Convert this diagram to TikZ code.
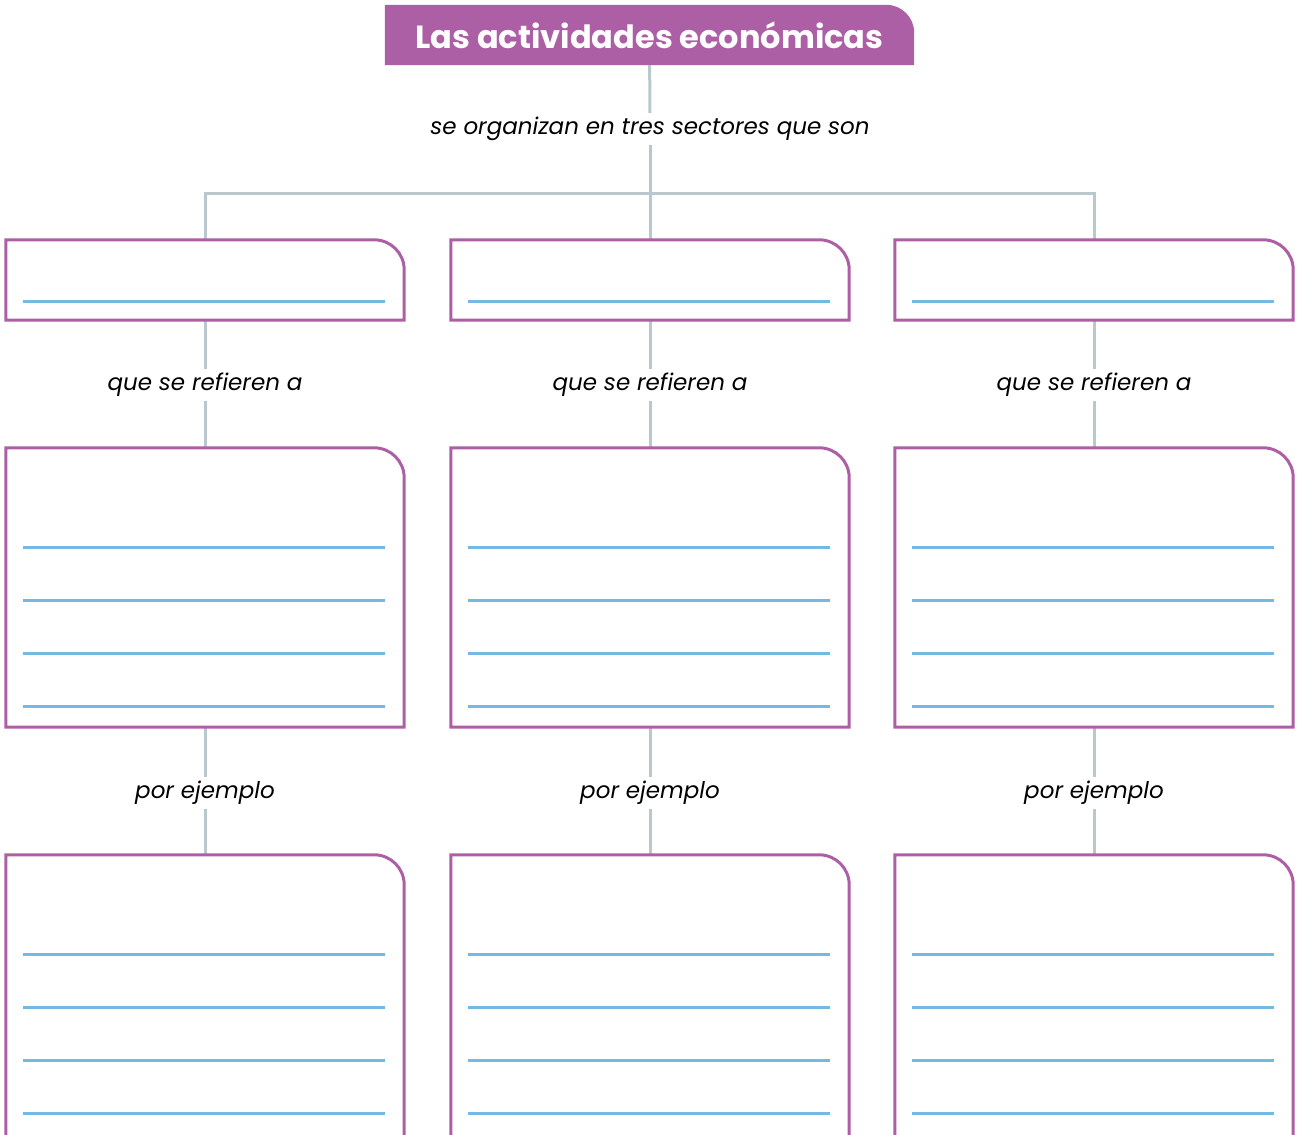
\documentclass[tikz,border=0pt]{standalone}
\usepackage{fontspec}
\setmainfont{Poppins}
\usetikzlibrary{positioning, backgrounds, calc}

\definecolor{sectorpurple}{HTML}{AD5FA5}
\definecolor{linkgray}{HTML}{B9C8CC}
\definecolor{writeblue}{HTML}{74B9E4}

\begin{document}
\begin{tikzpicture}[
    x=1pt, y=-1pt,
    titlenode/.style={text=white, font=\fontsize{32}{38}\selectfont\bfseries, minimum width=529pt, minimum height=60pt, inner sep=0pt},
    sectorbox/.style={minimum width=398pt, minimum height=80pt, inner sep=0pt},
    detailbox/.style={minimum width=398pt, minimum height=279pt, inner sep=0pt},
    examplebox/.style={minimum width=398pt, minimum height=300pt, inner sep=0pt},
    linklabel/.style={font=\fontsize{23}{27}\selectfont\itshape, inner sep=4pt},
    boxline/.style={draw=sectorpurple, line width=3pt},
    writeline/.style={draw=writeblue, line width=3pt},
    link/.style={draw=linkgray, line width=3pt}
]
\useasboundingbox (0,0) rectangle (1297,1134);
\clip (0,0) rectangle (1297,1134);

% Title
\node[titlenode] (title) at (649.5,35) {Las actividades económicas};
\begin{scope}[on background layer]
  \fill[sectorpurple] (title.south west) -- (title.north west) -- ([xshift=-28pt]title.north east)
    arc[start angle=90, end angle=0, radius=28pt] -- (title.south east) -- cycle;
\end{scope}

% Labels
\node[linklabel] (lbltop) at (650,129) {se organizan en tres sectores que son};
\coordinate (bar) at (650,193);

% Sectors
\node[sectorbox] (sa) at (205,280) {};
\node[sectorbox] (sb) at (650,280) {};
\node[sectorbox] (sc) at (1094,280) {};

\node[linklabel] (qa) at (205,385) {que se refieren a};
\node[linklabel] (qb) at (650,385) {que se refieren a};
\node[linklabel] (qc) at (1094,385) {que se refieren a};

\node[detailbox] (da) at (205,587.5) {};
\node[detailbox] (db) at (650,587.5) {};
\node[detailbox] (dc) at (1094,587.5) {};

\node[linklabel] (pa) at (205,793) {por ejemplo};
\node[linklabel] (pb) at (650,793) {por ejemplo};
\node[linklabel] (pc) at (1094,793) {por ejemplo};

\node[examplebox] (ea) at (205,1005) {};
\node[examplebox] (eb) at (650,1005) {};
\node[examplebox] (ec) at (1094,1005) {};

% Connectors
\draw[link] (title) -- (lbltop);
\draw[link] (lbltop) -- (bar);
\draw[link] (sa.north) |- (bar) -| (sc.north);
\draw[link] (bar) -- (sb);
\foreach \c in {a,b,c} {
  \draw[link] (s\c) -- (q\c) -- (d\c) -- (p\c) -- (e\c);
}

% Box outlines
\foreach \b in {sa,sb,sc,da,db,dc,ea,eb,ec} {
  \fill[white] (\b.south west) -- (\b.north west) -- ([xshift=-30pt]\b.north east)
    arc[start angle=90, end angle=0, radius=30pt] -- (\b.south east) -- cycle;
  \draw[boxline] (\b.south west) -- (\b.north west) -- ([xshift=-30pt]\b.north east)
    arc[start angle=90, end angle=0, radius=30pt] -- (\b.south east) -- cycle;
}

% Writing lines
\foreach \b in {sa,sb,sc} {
  \draw[writeline] ([xshift=17pt, yshift=-62pt]\b.north west) -- ([xshift=-19pt, yshift=-62pt]\b.north east);
}
\foreach \b in {da,db,dc,ea,eb,ec} {
  \foreach \k in {0,...,3} {
    \draw[writeline] ([xshift=17pt, yshift=-100-53*\k]\b.north west) -- ([xshift=-19pt, yshift=-100-53*\k]\b.north east);
  }
}
\end{tikzpicture}
\end{document}
